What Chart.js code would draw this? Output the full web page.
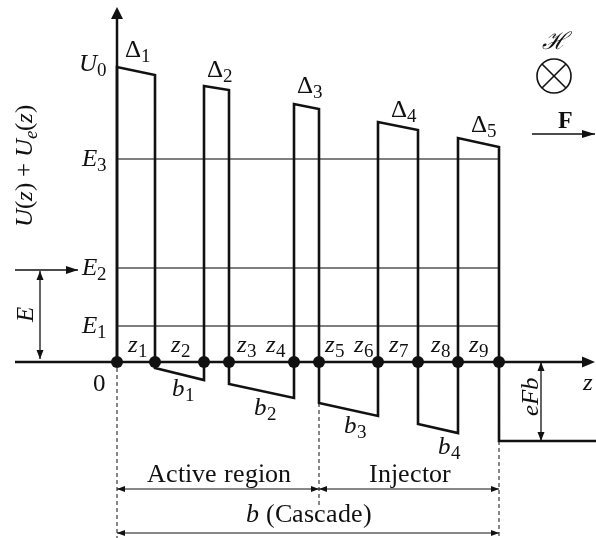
<!DOCTYPE html>
<html>
<head>
<meta charset="utf-8">
<script src="https://cdn.jsdelivr.net/npm/chart.js@4"></script>
<style>
  @font-face { font-family: 'DiagSerif'; font-style: normal; font-weight: 400;
    src: local('Liberation Serif'), local('LiberationSerif'), local('Liberation Serif Regular'), local('DejaVu Serif'), local('DejaVuSerif'); }
  @font-face { font-family: 'DiagSerif'; font-style: italic; font-weight: 400;
    src: local('Liberation Serif Italic'), local('LiberationSerif-Italic'), local('DejaVu Serif Italic'), local('DejaVuSerif-Italic'); }
  @font-face { font-family: 'DiagSerif'; font-style: normal; font-weight: 700;
    src: local('Liberation Serif Bold'), local('LiberationSerif-Bold'), local('DejaVu Serif Bold'), local('DejaVuSerif-Bold'); }
  html, body { margin: 0; padding: 0; background: #fff; }
  #chart { display: block; }
  .probe { position: absolute; left: -999px; top: 0; font-family: 'DiagSerif'; }
</style>
</head>
<body>
<canvas id="chart" width="596" height="538"></canvas>
<span class="probe">Ab</span><span class="probe" style="font-style:italic">Ab</span><span class="probe" style="font-weight:bold">Ab</span>
<script>
// interfaces z0..z9 of one cascade period (arb. units)
const zNodes = [0, 38, 87, 112, 177, 202, 261, 301, 341, 382];
// corners of the band-edge profile U(z) + Ue(z)
const profileZ = [0, 0, 38, 38, 87, 87, 112, 112, 177, 177, 202, 202, 261, 261, 301, 301, 341, 341, 382, 382, 479];
const profileU = [0, 295, 287, -6, -18, 276, 272, -22, -36, 258, 253, -41, -54, 240, 232, -62, -71, 224, 215, -79, -79];
// energy levels E1..E3
const levelNames = ["1", "2", "3"];
const levelValues = [36, 94, 203];
const dropEFb = -79;

const FONT = "DiagSerif, 'Liberation Serif', 'Times New Roman', serif";

function drawRuns(ctx, parts, x, y, size, align) {
    const subSize = Math.round(size * 0.76);
    const fontOf = p => (p.i ? 'italic ' : '') + (p.b ? 'bold ' : '') + (p.s ? subSize : size) + 'px ' + FONT;
    let w = 0;
    parts.forEach(p => {
        ctx.font = fontOf(p);
        p.w = ctx.measureText(p.t).width;
        w += p.w;
    });
    let cx = align === 'center' ? x - w / 2 : align === 'right' ? x - w : x;
    ctx.textAlign = 'left';
    ctx.textBaseline = 'alphabetic';
    parts.forEach(p => {
        ctx.font = fontOf(p);
        ctx.fillText(p.t, cx, y + (p.s ? size * 0.2 : 0));
        cx += p.w;
    });
}

function sym(main, sub, italicMain = true) {
    return [{ t: main, i: italicMain }, { t: sub, s: true }];
}

function line(ctx, x1, y1, x2, y2) {
    ctx.beginPath();
    ctx.moveTo(x1, y1);
    ctx.lineTo(x2, y2);
    ctx.stroke();
}

function head(ctx, x, y, ang, len, half) {
    ctx.save();
    ctx.translate(x, y);
    ctx.rotate(ang);
    ctx.beginPath();
    ctx.moveTo(0, 0);
    ctx.lineTo(-len, -half);
    ctx.lineTo(-len, half);
    ctx.closePath();
    ctx.fill();
    ctx.restore();
}

function arrow(ctx, x1, y1, x2, y2, both, len = 8, half = 3) {
    const ang = Math.atan2(y2 - y1, x2 - x1);
    line(ctx, x1, y1, x2, y2);
    head(ctx, x2, y2, ang, len, half);
    if (both) head(ctx, x1, y1, ang + Math.PI, len, half);
}

const diagram = {
    id: 'diagram',
    beforeDatasetsDraw(chart) {
        const ctx = chart.ctx;
        const X = v => chart.scales.x.getPixelForValue(v);
        const Y = v => chart.scales.y.getPixelForValue(v);
        ctx.save();
        ctx.strokeStyle = '#111';
        ctx.fillStyle = '#111';

        // dashed guides
        ctx.lineWidth = 1;
        ctx.setLineDash([4, 3]);
        line(ctx, X(zNodes[0]), Y(-6), X(zNodes[0]), Y(-176));
        line(ctx, X(zNodes[5]), Y(-41), X(zNodes[5]), Y(-144));
        line(ctx, X(zNodes[9]), Y(dropEFb), X(zNodes[9]), Y(-176));
        ctx.setLineDash([]);

        // axes
        ctx.lineWidth = 2.5;
        line(ctx, X(-102), Y(0), X(467), Y(0));
        head(ctx, X(478), Y(0), 0, 13, 5.5);
        line(ctx, X(0), Y(0), X(0), Y(343));
        head(ctx, X(0), Y(355), -Math.PI / 2, 12, 6);
        ctx.restore();
    },
    afterDatasetsDraw(chart) {
        const ctx = chart.ctx;
        const X = v => chart.scales.x.getPixelForValue(v);
        const Y = v => chart.scales.y.getPixelForValue(v);
        ctx.save();
        ctx.fillStyle = '#111';
        ctx.strokeStyle = '#111';
        const S = 25;

        // y-axis labels
        drawRuns(ctx, sym('U', '0'), X(-10), Y(291), S, 'right');
        levelNames.forEach((n, k) => {
            drawRuns(ctx, sym('E', n), X(-10), Y(levelValues[k] - 7), S, 'right');
        });
        drawRuns(ctx, [{ t: '0' }], X(-18), Y(-29), S, 'center');

        // barrier labels
        const deltaPos = [[8, 305], [90, 285], [180, 269], [274, 245], [354, 230]];
        deltaPos.forEach((p, k) => {
            drawRuns(ctx, sym('\u0394', String(k + 1), false), X(p[0]), Y(p[1]), S, 'left');
        });

        // interface labels
        const zLab = [11, 54, 120, 149, 208, 237, 272, 314, 352];
        zLab.forEach((z, k) => drawRuns(ctx, sym('z', String(k + 1)), X(z), Y(10), S, 'left'));

        // well labels
        const bPos = [[55, -34], [137, -53], [227, -71], [321, -92]];
        bPos.forEach((p, k) => drawRuns(ctx, sym('b', String(k + 1)), X(p[0]), Y(p[1]), S, 'left'));

        drawRuns(ctx, [{ t: 'z', i: true }], X(466), Y(-28), S, 'left');

        // rotated labels
        const vert = (parts, z, u) => {
            ctx.save();
            ctx.translate(X(z), Y(u));
            ctx.rotate(-Math.PI / 2);
            drawRuns(ctx, parts, 0, 0, S, 'center');
            ctx.restore();
        };
        vert([{ t: 'U', i: true }, { t: '(' }, { t: 'z', i: true }, { t: ') + ' },
              { t: 'U', i: true }, { t: 'e', i: true, s: true }, { t: '(' }, { t: 'z', i: true }, { t: ')' }], -85, 196);
        vert([{ t: 'E', i: true }], -84, 48);
        vert([{ t: 'eFb', i: true }], 421, -34);

        // energy arrows
        ctx.lineWidth = 1.3;
        arrow(ctx, X(-102), Y(92), X(-39), Y(92), false, 12, 4);
        arrow(ctx, X(-77), Y(91), X(-77), Y(3), true, 9, 3.5);
        arrow(ctx, X(424), Y(0), X(424), Y(dropEFb), true, 9, 3.5);

        // region brackets
        ctx.lineWidth = 1;
        arrow(ctx, X(zNodes[0]), Y(-127), X(zNodes[5]), Y(-127), true, 8, 3);
        arrow(ctx, X(zNodes[5]), Y(-127), X(zNodes[9]), Y(-127), true, 8, 3);
        arrow(ctx, X(zNodes[0]), Y(-171), X(zNodes[9]), Y(-171), true, 8, 3);
        drawRuns(ctx, [{ t: 'Active region' }], X(102), Y(-120), 26, 'center');
        drawRuns(ctx, [{ t: 'Injector' }], X(293), Y(-120), 26, 'center');
        drawRuns(ctx, [{ t: 'b', i: true }, { t: ' (Cascade)' }], X(192), Y(-160), 26, 'center');

        // field symbols
        drawRuns(ctx, [{ t: '\u210B', i: true }], X(437), Y(313), 24, 'center');
        const cx = X(437), cy = Y(286), r = 17;
        ctx.lineWidth = 1.6;
        ctx.beginPath();
        ctx.arc(cx, cy, r, 0, Math.PI * 2);
        ctx.stroke();
        const d = r * Math.SQRT1_2;
        line(ctx, cx - d, cy - d, cx + d, cy + d);
        line(ctx, cx - d, cy + d, cx + d, cy - d);

        drawRuns(ctx, [{ t: 'F', b: true }], X(448), Y(234), 24, 'center');
        ctx.lineWidth = 1.5;
        arrow(ctx, X(415), Y(228), X(478), Y(228), false, 13, 4);
        ctx.restore();
    }
};

const levelSets = levelValues.map(v => ({
    data: [{ x: zNodes[0], y: v }, { x: zNodes[9], y: v }],
    showLine: true,
    borderColor: '#555',
    borderWidth: 1.3,
    pointRadius: 0,
    order: 2
}));

function drawChart() {
    new Chart(document.getElementById('chart'), {
        type: 'scatter',
        data: {
            datasets: [
                {
                    data: zNodes.map(z => ({ x: z, y: 0 })),
                    pointRadius: 6,
                    backgroundColor: '#111',
                    borderColor: '#111',
                    borderWidth: 0,
                    order: 0
                },
                {
                    data: profileZ.map((z, k) => ({ x: z, y: profileU[k] })),
                    showLine: true,
                    borderColor: '#111',
                    borderWidth: 2.6,
                    pointRadius: 0,
                    order: 1
                },
                ...levelSets
            ]
        },
        options: {
            responsive: false,
            animation: false,
            layout: { padding: 0, autoPadding: false },
            plugins: { legend: { display: false }, tooltip: { enabled: false } },
            scales: {
                x: { type: 'linear', display: false, min: -117, max: 479 },
                y: { type: 'linear', display: false, min: -176, max: 362 }
            }
        },
        plugins: [diagram]
    });
}

Promise.all([
    document.fonts.load("25px DiagSerif"),
    document.fonts.load("italic 25px DiagSerif"),
    document.fonts.load("bold 25px DiagSerif")
]).then(() => document.fonts.ready).then(drawChart, drawChart);
</script>
</body>
</html>
